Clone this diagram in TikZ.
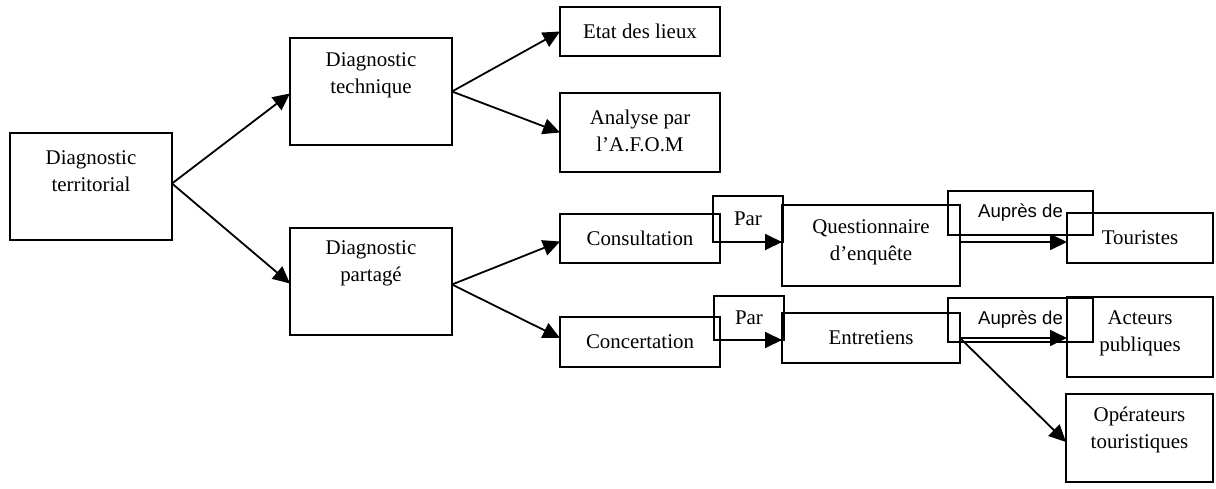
\documentclass[tikz,border=0pt]{standalone}
\usepackage{fontspec}
\setmainfont{Liberation Serif}
\newfontfamily\arialfont{Liberation Sans}
\usetikzlibrary{arrows.meta,calc}
\begin{document}
\begin{tikzpicture}[x=0.5pt,y=-0.5pt,
  box/.style={draw, line width=0.9pt, rectangle, inner sep=0pt, outer sep=0pt, anchor=north west},
  lbl/.style={align=center, inner sep=0pt, font=\fontsize{10.45}{13.5}\selectfont},
  sanslbl/.style={align=center, inner sep=0pt, font=\arialfont\fontsize{9.3}{11}\selectfont},
  arr/.style={line width=0.9pt, -{Triangle[length=8.5pt,width=8pt]}}]
\useasboundingbox (0,0) rectangle (1216,488);

% boxes
\node[box, minimum width=81pt, minimum height=53.5pt] (terr) at (10,133) {};
\node[box, minimum width=81pt, minimum height=53.5pt] (tech) at (290,38) {};
\node[box, minimum width=81pt, minimum height=53.5pt] (part) at (290,228) {};
\node[box, minimum width=80pt, minimum height=24.5pt] (etat) at (560,7) {};
\node[box, minimum width=80pt, minimum height=39.5pt] (afom) at (560,93) {};
\node[box, minimum width=80pt, minimum height=24.5pt] (cons) at (560,214) {};
\node[box, minimum width=80pt, minimum height=25pt] (conc) at (560,317) {};
\node[box, minimum width=35pt, minimum height=23pt] (par1) at (713,196) {};
\node[box, minimum width=35pt, minimum height=22pt] (par2) at (714,296) {};
\node[box, minimum width=89pt, minimum height=40.5pt] (ques) at (782,205) {};
\node[box, minimum width=89pt, minimum height=25pt] (entr) at (782,313) {};
\node[box, minimum width=72.5pt, minimum height=22pt] (aup1) at (948,191) {};
\node[box, minimum width=72.5pt, minimum height=22pt] (aup2) at (948,298) {};
\node[box, minimum width=73pt, minimum height=25pt] (tour) at (1067,213) {};
\node[box, minimum width=73pt, minimum height=40pt] (acte) at (1067,297) {};
\node[box, minimum width=73.5pt, minimum height=44pt] (oper) at (1066,394) {};

% texts
\node[lbl] (terrt) at ($(terr.north)+(0,38)$) {Diagnostic\\territorial};
\node[lbl] (techt) at ($(tech.north)+(0,37)$) {Diagnostic\\technique};
\node[lbl] (partt) at ($(part.north)+(0,35.5)$) {Diagnostic\\partagé};
\node[lbl] (etatt) at (etat.center) {Etat des lieux};
\node[lbl] (afomt) at ($(afom.north)+(0,38)$) {Analyse par\\l’A.F.O.M};
\node[lbl] (const) at (cons.center) {Consultation};
\node[lbl] (conct) at (conc.center) {Concertation};
\node[lbl] (par1t) at (par1.center) {Par};
\node[lbl] (par2t) at (par2.center) {Par};
\node[lbl] (quest) at ($(ques.north)+(0,37)$) {Questionnaire\\d’enquête};
\node[lbl] (entrt) at (entr.center) {Entretiens};
\node[sanslbl] (aup1t) at (aup1.center) {Auprès de};
\node[sanslbl] (aup2t) at (aup2.center) {Auprès de};
\node[lbl] (tourt) at (tour.center) {Touristes};
\node[lbl] (actet) at ($(acte.north)+(0,36.5)$) {Acteurs\\publiques};
\node[lbl] (opert) at ($(oper.north)+(0,36)$) {Opérateurs\\touristiques};

% connectors
\draw[arr] ($(terr.east)+(0,-3)$) -- ($(tech.west)+(0,2)$);
\draw[arr] ($(terr.east)+(0,-3)$) -- ($(part.west)+(0,2)$);
\draw[arr] (tech.east) -- (etat.west);
\draw[arr] (tech.east) -- (afom.west);
\draw[arr] ($(part.east)+(0,3)$) -- ($(cons.west)+(0,3)$);
\draw[arr] ($(part.east)+(0,3)$) -- ($(conc.west)+(0,-4)$);
\draw[arr] (cons.east |- par1.south) -- (ques.west |- par1.south);
\draw[arr] (conc.east |- par2.south) -- (entr.west |- par2.south);
\draw[arr] (ques.east |- par1.south) -- (tour.west |- par1.south);
\draw[arr] (entr.east) -- (entr.east -| acte.west);
\draw[arr] (entr.east) -- ($(oper.west)+(0,4)$);
\end{tikzpicture}
\end{document}
